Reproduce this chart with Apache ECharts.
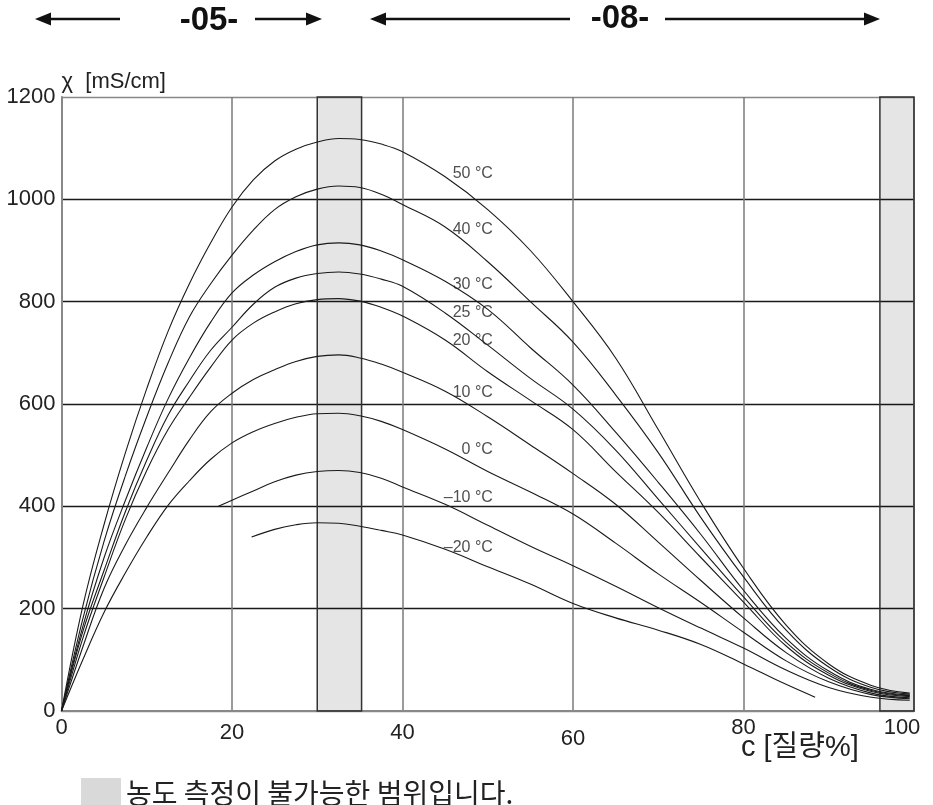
<!DOCTYPE html>
<html><head><meta charset="utf-8">
<script src="https://cdn.jsdelivr.net/npm/echarts@6.0.0/dist/echarts.min.js"></script>
<style>html,body{margin:0;padding:0;background:#fff}#c{width:933px;height:805px}</style>
</head><body><div id="c"></div>
<script>
// ---- data ----
const xTicks = [0, 20, 40, 60, 80, 100];
const yTicks = [0, 200, 400, 600, 800, 1000, 1200];
const bandRanges = [[30, 35.2], [96, 100]];
const t50 = [[0,0],[2.5,205],[5,365],[7.5,505],[10,630],[12.5,742],[15,835],[17.5,915],[20,985],[22.5,1038],[25,1075],[27.5,1098],[30,1112],[32.5,1119],[35,1117],[37.5,1108],[40,1093],[45,1044],[50,980],[55,900],[60,800],[65,690],[70,550],[75,408],[80,279],[85,168],[90,92],[95,50],[99.5,35]];
const t40 = [[0,0],[2.5,180],[5,332],[7.5,460],[10,575],[12.5,680],[15,770],[17.5,835],[20,891],[22.5,940],[25,980],[27.5,1005],[30,1020],[32.5,1026],[35,1023],[37.5,1010],[40,990],[45,946],[50,878],[55,800],[60,721],[65,618],[70,505],[75,378],[80,262],[85,158],[90,86],[95,46],[99.5,33]];
const t30 = [[0,0],[2.5,165],[5,300],[7.5,412],[10,515],[12.5,610],[15,690],[17.5,760],[20,817],[22.5,852],[25,878],[27.5,898],[30,911],[32.5,915],[35,911],[37.5,899],[40,882],[45,840],[50,785],[55,710],[60,637],[65,545],[70,447],[75,345],[80,236],[85,142],[90,78],[95,42],[99.5,31]];
const t25 = [[0,0],[2.5,155],[5,275],[7.5,390],[10,490],[12.5,578],[15,645],[17.5,705],[20,750],[22.5,795],[25,828],[27.5,846],[30,855],[32.5,858],[35,854],[37.5,844],[40,830],[45,778],[50,715],[55,650],[60,590],[65,510],[70,414],[75,318],[80,223],[85,134],[90,74],[95,40],[99.5,30]];
const t20 = [[0,0],[2.5,142],[5,262],[7.5,375],[10,470],[12.5,550],[15,613],[17.5,672],[20,725],[22.5,758],[25,780],[27.5,796],[30,804],[32.5,806],[35,801],[37.5,789],[40,772],[45,725],[50,663],[55,607],[60,550],[65,468],[70,388],[75,300],[80,213],[85,127],[90,70],[95,38],[99.5,28]];
const t10 = [[0,0],[2.5,125],[5,240],[7.5,325],[10,398],[12.5,465],[15,530],[17.5,585],[20,621],[22.5,648],[25,667],[27.5,683],[30,693],[32.5,696],[35,690],[37.5,678],[40,662],[45,625],[50,575],[55,520],[60,464],[65,404],[70,330],[75,255],[80,182],[85,114],[90,64],[95,35],[99.5,26]];
const t0 = [[0,0],[2.5,100],[5,193],[7.5,270],[10,340],[12.5,402],[15,450],[17.5,492],[20,524],[22.5,546],[25,562],[27.5,574],[30,581],[32.5,582],[35,577],[37.5,566],[40,550],[45,512],[50,468],[55,428],[60,385],[65,328],[70,268],[75,212],[80,154],[85,98],[90,57],[95,32],[99.5,24]];
const tm10 = [[18.4,400],[20,412],[22.5,430],[25,448],[27.5,461],[30,468],[32.5,470],[35,466],[37.5,455],[40,438],[45,404],[50,363],[55,322],[60,284],[65,244],[70,202],[75,162],[80,123],[85,80],[90,46],[95,27],[99.5,21]];
const tm20 = [[22.3,340],[25,355],[27.5,364],[30,368],[32.5,367],[35,361],[37.5,353],[40,344],[45,316],[50,282],[55,248],[60,210],[65,182],[70,158],[75,130],[80,92],[84.6,55],[88.4,27]];
const curves = [t50, t40, t30, t25, t20, t10, t0, tm10, tm20];
const tempLabels = ['50 °C','40 °C','30 °C','25 °C','20 °C','10 °C','0 °C','–10 °C','–20 °C'];
const labelAnchorX = 50.6;
const labelAnchorY = [1051, 940, 834, 779, 724, 623, 510, 418, 320];
const legendText = '농도 측정이 불가능한 범위입니다.';
const yName = 'χ  [mS/cm]';
const xName = 'c [질량%]';
const rangeTexts = ['-05-', '-08-'];

// ---- chart ----
const chart = echarts.init(document.getElementById('c'), null, {renderer:'canvas'});
const ink = '#1a1a1a';
const series = curves.map((d, i) => ({
  type: 'line', data: d, showSymbol: false, smooth: 0.4,
  lineStyle: {color: ink, width: 1.1}, silent: true, z: 3,
  markArea: i === 0 ? {
    silent: true,
    itemStyle: {color: 'rgba(0,0,0,0.1)', borderColor: '#333', borderWidth: 1.5},
    data: bandRanges.map(r => [{xAxis: r[0], yAxis: 0}, {xAxis: r[1], yAxis: 1200}])
  } : undefined
}));
series.push({
  type: 'scatter', data: tempLabels.map((t, i) => [labelAnchorX, labelAnchorY[i], t]),
  symbolSize: 0, silent: true, z: 5,
  label: {show: true, position: 'left', distance: 0, formatter: p => p.data[2],
    fontSize: 16, fontFamily: 'Liberation Sans', color: '#222'}
});
series.push({
  type: 'bar', name: legendText, data: [], itemStyle: {color: '#d9d9d9'}
});

const lblFont = {fontSize: 22, fontFamily: '"Liberation Sans Narrow","Liberation Sans"', color: '#222'};
function arrowEls(x1, x2, y, tipAtEnd) {
  const tip = tipAtEnd ? x2 : x1;
  const dir = tipAtEnd ? -1 : 1;
  return [
    {type: 'line', shape: {x1: tipAtEnd ? x1 : x1 + 10, y1: y, x2: tipAtEnd ? x2 - 10 : x2, y2: y}, style: {stroke: '#111', lineWidth: 2.5}},
    {type: 'polygon', shape: {points: [[tip, y], [tip + dir * 16, y - 6.5], [tip + dir * 16, y + 6.5]]}, style: {fill: '#111'}}
  ];
}
const graphics = [
  ...arrowEls(35, 120, 19, false),
  ...arrowEls(255, 322, 19, true),
  ...arrowEls(370, 570, 19, false),
  ...arrowEls(665, 880, 19, true),
  {type: 'text', x: 209, y: 21, style: {text: rangeTexts[0], fontSize: 33, fontWeight: 'bold', fontFamily: '"Liberation Sans Narrow","Liberation Sans"', fill: '#111', align: 'center', verticalAlign: 'middle'}},
  {type: 'text', x: 620, y: 19, style: {text: rangeTexts[1], fontSize: 33, fontWeight: 'bold', fontFamily: '"Liberation Sans Narrow","Liberation Sans"', fill: '#111', align: 'center', verticalAlign: 'middle'}},
  {type: 'text', x: 741, y: 748, style: {text: xName, fontSize: 29, fontFamily: '"Liberation Sans Narrow","Liberation Sans","Noto Sans CJK KR"', fill: '#222', align: 'left', verticalAlign: 'middle'}}
];

chart.setOption({
  animation: false,
  backgroundColor: '#fff',
  grid: {left: 61.5, right: 19, top: 97, bottom: 94, containLabel: false},
  legend: {
    data: [legendText], left: 76, top: 772, icon: 'rect', itemWidth: 40, itemHeight: 30, itemGap: 6,
    textStyle: {fontSize: 28, lineHeight: 28, fontFamily: '"Noto Sans CJK KR"', color: '#222', padding: [0, 0, 4, 0]}, selectedMode: false
  },
  xAxis: {
    type: 'value', min: 0, max: 100, interval: 20,
    axisLine: {show: true, lineStyle: {color: '#888', width: 2}},
    axisTick: {show: false},
    splitLine: {show: true, lineStyle: {color: '#7a7a7a', width: 1.5}},
    axisLabel: {
      margin: 6, ...lblFont,
      formatter: v => v === 60 ? '{lo|60}' : v === 80 ? '{hi|80}' : v === 100 ? '{end|100}' : v === 0 ? '{hi|0}' : '{n|' + v + '}',
      rich: {
        n: {...lblFont, padding: [5, 0, 0, 0]},
        lo: {...lblFont, padding: [11, 0, 0, 0]},
        hi: {...lblFont, padding: [0, 0, 0, 0]},
        end: {...lblFont, padding: [0, 24, 0, 0]}
      }
    }
  },
  yAxis: {
    type: 'value', min: 0, max: 1200, interval: 200,
    axisLine: {show: true, lineStyle: {color: '#888', width: 2}},
    axisTick: {show: false},
    splitLine: {show: true, lineStyle: {color: ['#888', ink, ink, ink, ink, ink, '#888'], width: 1.3}},
    axisLabel: {margin: 6, fontSize: 22, fontFamily: '"Liberation Sans"', color: '#222', formatter: v => String(v)},
    name: yName, nameLocation: 'end', nameGap: 4,
    nameTextStyle: {fontSize: 22, fontFamily: '"Liberation Sans"', color: '#222', align: 'left', verticalAlign: 'bottom'}
  },
  graphic: graphics,
  series: series
});
</script></body></html>
